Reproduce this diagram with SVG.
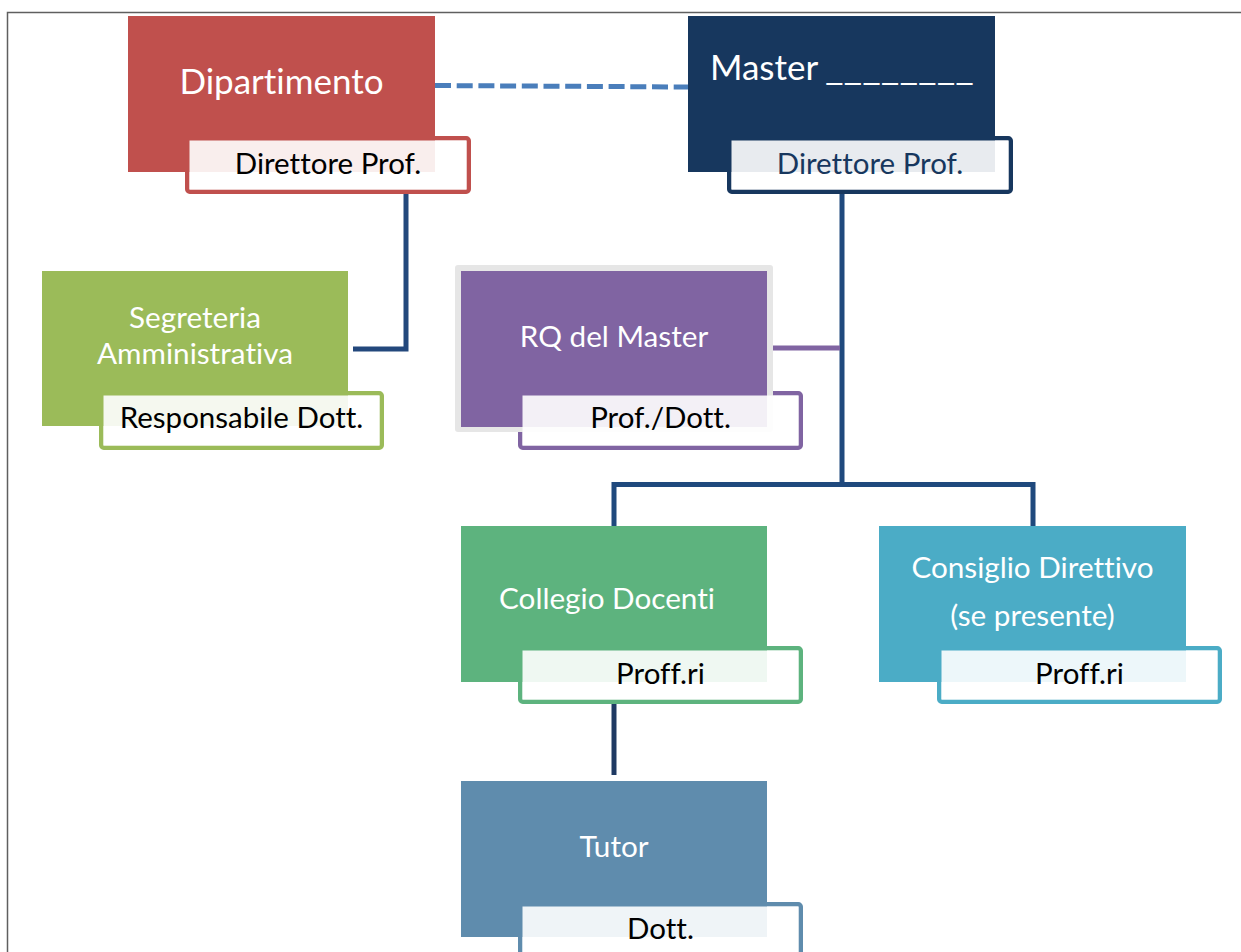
<svg xmlns="http://www.w3.org/2000/svg" width="1241" height="952" viewBox="0 0 1241 952">
<style>
.t{font-family:Lato,"Open Sans","Liberation Sans",sans-serif;fill:#fff;font-variant-ligatures:none}
.big{font-size:35px}
.mid{font-size:29.7px}
.s{font-family:Lato,"Open Sans","Liberation Sans",sans-serif;font-size:29.5px;fill:#000;font-variant-ligatures:none}
.ov{fill:#fff;fill-opacity:0.9}
.conn{fill:none;stroke-width:5}
</style>
<rect width="1241" height="952" fill="#fff"/>
<path d="M7.5 952 V12.5 H1241" fill="none" stroke="#5f5f5f" stroke-width="1.5"/>
<g id="connectors">
<line x1="435" y1="85.5" x2="688" y2="87" stroke="#4A7EBB" stroke-width="5" stroke-dasharray="16 5.7"/>
<path class="conn" d="M406 190 V349 H353" stroke="#23487C"/>
<path class="conn" d="M842 190 V485" stroke="#1F497D"/>
<path class="conn" d="M773 348 H840" stroke="#8064A2"/>
<path class="conn" d="M614 526 V484.5 H1033 V526" stroke="#1F497D"/>
<path class="conn" d="M614 700 V775" stroke="#1F3A63"/>
</g>
<g id="dipartimento">
<rect x="187.25" y="138.25" width="281.5" height="53.5" rx="2.5" fill="#fff" stroke="#C0504D" stroke-width="4.5"/>
<rect x="128" y="16" width="307" height="156" fill="#C0504D"/>
<rect class="ov" x="189.5" y="140.5" width="277" height="49"/>
<text class="t big" x="281.5" y="94" text-anchor="middle">Dipartimento</text>
<text class="s" x="328" y="174" text-anchor="middle">Direttore Prof.</text>
</g>
<g id="master">
<rect x="729.25" y="138.25" width="281.5" height="53.5" rx="2.5" fill="#fff" stroke="#17375E" stroke-width="4.5"/>
<rect x="688" y="16" width="307" height="156" fill="#17375E"/>
<rect class="ov" x="731.5" y="140.5" width="277" height="49"/>
<text class="t big" x="710" y="80">Master</text>
<text class="t big" x="825" y="80" textLength="149" lengthAdjust="spacingAndGlyphs">________</text>
<text class="s" x="870" y="174" text-anchor="middle" style="fill:#17375E">Direttore Prof.</text>
</g>
<g id="segreteria">
<rect x="101.25" y="393.25" width="280.5" height="54.5" rx="2.5" fill="#fff" stroke="#9BBB59" stroke-width="4.5"/>
<rect x="42" y="271" width="306" height="155" fill="#9BBB59"/>
<rect class="ov" x="103.5" y="395.5" width="276" height="50"/>
<text class="t mid" x="195" y="328" text-anchor="middle">Segreteria</text>
<text class="t mid" x="195" y="364" text-anchor="middle">Amministrativa</text>
<text class="s" x="241.5" y="428" text-anchor="middle">Responsabile Dott.</text>
</g>
<g id="rq">
<rect x="520.25" y="393.25" width="280.5" height="54.5" rx="2.5" fill="#fff" stroke="#8064A2" stroke-width="4.5"/>
<rect x="455" y="265" width="318" height="167" rx="3" fill="#E6E6E6"/>
<rect x="461" y="271" width="306" height="156" fill="#8064A2"/>
<rect class="ov" x="522.5" y="395.5" width="276" height="50"/>
<text class="t mid" x="614" y="347" text-anchor="middle">RQ del Master</text>
<text class="s" x="660.5" y="428" text-anchor="middle">Prof./Dott.</text>
</g>
<g id="collegio">
<rect x="520.25" y="648.25" width="280.5" height="53.5" rx="2.5" fill="#fff" stroke="#5DB37E" stroke-width="4.5"/>
<rect x="461" y="526" width="306" height="156" fill="#5DB37E"/>
<rect class="ov" x="522.5" y="650.5" width="276" height="49"/>
<text class="t mid" x="607" y="609" text-anchor="middle">Collegio Docenti</text>
<text class="s" x="660.5" y="684" text-anchor="middle">Proff.ri</text>
</g>
<g id="consiglio">
<rect x="939.25" y="648.25" width="280.5" height="53.5" rx="2.5" fill="#fff" stroke="#4BACC6" stroke-width="4.5"/>
<rect x="879" y="526" width="307" height="156" fill="#4BACC6"/>
<rect class="ov" x="941.5" y="650.5" width="276" height="49"/>
<text class="t mid" x="1032.5" y="578" text-anchor="middle">Consiglio Direttivo</text>
<text class="t mid" x="1032.5" y="626" text-anchor="middle">(se presente)</text>
<text class="s" x="1079.5" y="684" text-anchor="middle">Proff.ri</text>
</g>
<g id="tutor">
<rect x="520.25" y="904.25" width="280.5" height="53.5" rx="2.5" fill="#fff" stroke="#5F8CAD" stroke-width="4.5"/>
<rect x="461" y="781" width="306" height="156" fill="#5F8CAD"/>
<rect class="ov" x="522.5" y="906.5" width="276" height="49"/>
<text class="t mid" x="614" y="857" text-anchor="middle">Tutor</text>
<text class="s" x="660.5" y="939" text-anchor="middle">Dott.</text>
</g>
</svg>
